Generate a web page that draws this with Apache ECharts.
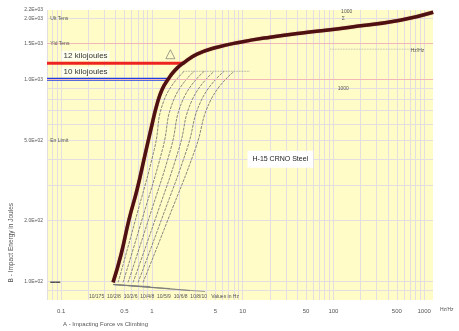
<!DOCTYPE html>
<html>
<head>
<meta charset="utf-8">
<script src="https://cdn.jsdelivr.net/npm/echarts@6/dist/echarts.min.js"></script>
<style>
  html, body { margin: 0; padding: 0; background: #fff; }
  #chart { width: 459px; height: 331px; }
</style>
</head>
<body>
<div id="chart"></div>
<script>
// log-log chart, values
const xLabelValues = [0.1, 0.5, 1, 5, 10, 50, 100, 500, 1000];
const yLabelValues = [100, 200, 500, 1000, 1500, 2000, 2200];

const mainX = [0.374, 0.458, 0.561, 0.688, 0.843, 1.006, 1.14, 1.30, 1.51, 1.80, 2.21, 3.15, 5.24, 9.39, 20.1, 43, 153, 543, 1256];
const mainY = [99, 136, 203, 285, 425, 599, 752, 893, 1000, 1108, 1200, 1330, 1440, 1525, 1614, 1690, 1808, 1959, 2145];

const fanY = [99, 203, 450, 796, 1095];
const fanX = [
  [0.425, 0.662, 1.064, 1.375, 2.27],
  [0.482, 0.781, 1.31, 1.75, 2.92],
  [0.547, 0.921, 1.61, 2.21, 3.77],
  [0.621, 1.09, 1.98, 2.80, 4.85],
  [0.706, 1.28, 2.43, 3.55, 6.25],
  [0.801, 1.51, 3.00, 4.50, 8.06]
];

// rays at the foot of the curve
const rayStart = [0.374, 96.6];
const rayEnds = [[0.957, 94.4], [1.585, 92.3], [2.64, 90.2], [3.86, 89.2]];

const kj12 = { label: '12 kilojoules', y: 1200, xEnd: 2.21 };
const kj10 = { label: '10 kilojoules', y: 1000, xEnd: 1.51 };

const notes = [
  { x: 0.075, y: 2000, text: 'Ult Tens' },
  { x: 0.075, y: 1500, text: 'Yld Tens' },
  { x: 0.075, y: 500, text: 'En Limit' },
  { x: 0.075, y: 100, text: '▬▬' },
  { x: 120, y: 2150, text: '1000' },
  { x: 122, y: 1990, text: 'Σ' },
  { x: 700, y: 1380, text: 'Hz/Hz' },
  { x: 110, y: 895, text: '1000' },
  { x: 0.2, y: 84, text: '10/175  10/2/8  10/2/6  10/4/8  10/5/9  10/6/8  10/8/10   Values in Hz' }
];

const xMin = 0.07, xMax = 1250, yMin = 81, yMax = 2200;

const xGrid = [], yGrid = [];
[0.01, 0.1, 1, 10, 100, 1000].forEach(d => {
  for (let m = 1; m <= 9; m++) {
    const v = m * d;
    if (v >= xMin && v <= xMax) xGrid.push(v);
    if (v >= yMin && v <= yMax) yGrid.push(v);
  }
});

const L = Math.log10;
const pair = (xs, ys) => xs.map((x, i) => [L(x), L(ys[i])]);

function fmtX(lv) {
  return String(Number(Math.pow(10, lv).toPrecision(3)));
}
function fmtY(lv) {
  const v = Math.pow(10, lv);
  const e = Math.floor(L(v) + 1e-9);
  const m = v / Math.pow(10, e);
  return m.toFixed(1) + 'E+' + String(e).padStart(2, '0');
}

const font = 'Liberation Sans';
const gridColor = '#e3dee2';

const series = [];

fanX.forEach(xs => {
  series.push({
    type: 'line', data: pair(xs, fanY), smooth: true, showSymbol: false, silent: true,
    lineStyle: { color: '#6a6a6a', width: 0.8, type: [3, 1] }, z: 3
  });
});

rayEnds.forEach(p => {
  series.push({
    type: 'line', data: [[L(rayStart[0]), L(rayStart[1])], [L(p[0]), L(p[1])]],
    showSymbol: false, silent: true, lineStyle: { color: '#777', width: 0.7 }, z: 3
  });
});

// dotted helper lines
series.push({
  type: 'line', data: [[L(2.2), L(1095)], [L(12), L(1095)]], showSymbol: false, silent: true,
  lineStyle: { color: '#888', width: 0.8, type: 'dotted' }, z: 3
});
series.push({
  type: 'line', data: [[L(92), L(1408)], [L(903), L(1408)]], showSymbol: false, silent: true,
  lineStyle: { color: '#aaa', width: 0.8, type: 'dotted' }, z: 3
});

[kj12, kj10].forEach((k, i) => {
  series.push({
    type: 'line', data: [[L(xMin), L(k.y)], [L(k.xEnd), L(k.y)]], showSymbol: false, silent: true,
    lineStyle: { color: i === 0 ? '#ee2420' : '#1f3fe0', width: 3 }, z: 4,
    markPoint: {
      symbol: 'rect', symbolSize: 1, itemStyle: { color: 'transparent' },
      data: [{
        coord: [L(0.1), L(k.y * 1.09)],
        label: {
          show: true, position: 'right', distance: 0, formatter: k.label,
          color: '#333', fontSize: 8, fontFamily: font,
          backgroundColor: 'rgba(255,255,245,0.85)', padding: [1, 2]
        }
      }]
    }
  });
});

series.push({
  type: 'line', data: pair(mainX, mainY), smooth: true, showSymbol: false, silent: true,
  lineStyle: { color: '#4e1010', width: 3.5, shadowColor: 'rgba(160,40,40,0.5)', shadowBlur: 1 }, z: 5
});

// annotations + reference lines
series.push({
  type: 'line', data: [], silent: true,
  markLine: {
    silent: true, symbol: 'none', label: { show: false },
    lineStyle: { color: '#f2b8b8', width: 1, type: 'solid' },
    data: [{ yAxis: L(1500) }, { yAxis: L(1000) }]
  },
  markPoint: {
    symbol: 'rect', symbolSize: 1, itemStyle: { color: 'transparent' },
    data: notes.map(n => ({
      coord: [L(n.x), L(n.y)],
      label: { show: true, position: 'right', distance: 0, formatter: n.text, color: '#555', fontSize: 5, fontFamily: font }
    })).concat([{
      coord: [L(26), L(402)],
      label: {
        show: true, position: 'inside', formatter: 'H-15 CRNO Steel', color: '#222', fontSize: 7, fontFamily: font,
        backgroundColor: '#fff', padding: [5, 5]
      }
    }, {
      coord: [L(1.6), L(1330)], symbol: 'triangle', symbolSize: 9,
      itemStyle: { color: 'transparent', borderColor: '#777', borderWidth: 0.7 }
    }])
  }
});

const chart = echarts.init(document.getElementById('chart'));
chart.setOption({
  animation: false,
  backgroundColor: '#fff',
  grid: { left: 47, right: 26, top: 10, bottom: 31, backgroundColor: '#fffcc8', show: true, borderWidth: 0 },
  xAxis: {
    type: 'value', min: L(xMin), max: L(xMax),
    axisLine: { show: false }, axisTick: { show: false, customValues: xGrid.map(L) },
    splitLine: { show: true, lineStyle: { color: gridColor, width: 1 } },
    axisLabel: { customValues: xLabelValues.map(L), formatter: fmtX, color: '#555', fontSize: 6, fontFamily: font, margin: 8 }
  },
  yAxis: {
    type: 'value', min: L(yMin), max: L(yMax),
    axisLine: { show: false }, axisTick: { show: false, customValues: yGrid.map(L) },
    splitLine: { show: true, lineStyle: { color: gridColor, width: 1 } },
    axisLabel: { customValues: yLabelValues.map(L), formatter: fmtY, color: '#555', fontSize: 5, fontFamily: font, margin: 4 }
  },
  graphic: [
    {
      type: 'text', left: 63, top: 321,
      style: { text: 'A - Impacting Force vs Climbing', fill: '#555', font: '6px "Liberation Sans"' }
    },
    {
      type: 'text', left: 8, top: 203, rotation: Math.PI / 2,
      style: { text: 'B - Impact Energy in Joules', fill: '#555', font: '6.5px "Liberation Sans"' }
    },
    {
      type: 'text', left: 440, top: 307,
      style: { text: 'Hz/Hz', fill: '#555', font: '5px "Liberation Sans"' }
    }
  ],
  series: series
});
</script>
</body>
</html>
